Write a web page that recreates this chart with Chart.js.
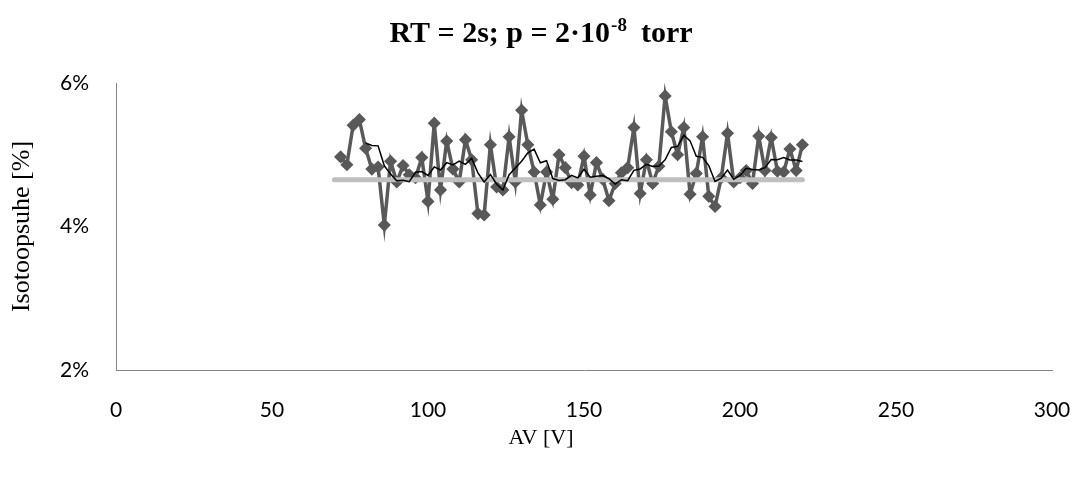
<!DOCTYPE html>
<html lang="et">
<head>
    <meta charset="UTF-8">
    <meta name="viewport" content="width=device-width, initial-scale=1.0">
    <script src="https://cdn.jsdelivr.net/npm/chart.js"></script>
    <title>Isotoopsuhe</title>
    <style>
      html, body { margin: 0; padding: 0; background: #ffffff; }
      .chart-box { width: 1082px; height: 477px; }
    </style>
</head>
<body>
    <div class="chart-box">
        <canvas id="isotoopChart" width="1082" height="477"></canvas>
    </div>

<script>
  // andmed loetud graafikult
  // kiirenduspinge AV [V]
  let pinged = [72, 74, 76, 78, 80, 82, 84, 86, 88, 90, 92, 94, 96, 98, 100,
    102, 104, 106, 108, 110, 112, 114, 116, 118, 120, 122, 124, 126, 128, 130,
    132, 134, 136, 138, 140, 142, 144, 146, 148, 150, 152, 154, 156, 158, 160,
    162, 164, 166, 168, 170, 172, 174, 176, 178, 180, 182, 184, 186, 188, 190,
    192, 194, 196, 198, 200, 202, 204, 206, 208, 210, 212, 214, 216, 218, 220];

  // isotoopsuhe [%]
  let suhted = [4.97, 4.86, 5.41, 5.49, 5.09, 4.80, 4.83, 4.02, 4.91, 4.62,
    4.85, 4.72, 4.68, 4.96, 4.35, 5.44, 4.51, 5.19, 4.80, 4.62,
    5.21, 4.93, 4.18, 4.16, 5.14, 4.55, 4.51, 5.25, 4.62, 5.62,
    5.14, 4.76, 4.30, 4.76, 4.38, 5.00, 4.82, 4.61, 4.58, 4.98,
    4.44, 4.89, 4.66, 4.36, 4.60, 4.75, 4.82, 5.38, 4.46, 4.93,
    4.60, 4.84, 5.82, 5.32, 5.00, 5.38, 4.45, 4.74, 5.25, 4.42,
    4.28, 4.68, 5.30, 4.62, 4.68, 4.78, 4.60, 5.26, 4.78, 5.24,
    4.77, 4.76, 5.08, 4.78, 5.14];

  // hall võrdlusjoon (loomulik isotoopsuhe)
  let vordlusX = [70, 220];
  let vordlusY = [4.65, 4.65];

  // libiseva keskmise periood (Exceli trendijoon)
  let periood = 5;

  // teljed
  let xTelg = [0, 300, 50];
  let yTelg = [2, 6, 2];

  // Exceli trendijoon: libisev keskmine üle "periood" punkti
  function libisevKeskmine(x, y, n) {
    let tulemus = [];
    for (let i = n - 1; i < y.length; i++) {
      let summa = 0;
      for (let j = i - n + 1; j <= i; j++) {
        summa += y[j];
      }
      tulemus.push({ x: x[i], y: summa / n });
    }
    return tulemus;
  }

  function punktid(x, y) {
    let tulemus = [];
    for (let i = 0; i < x.length; i++) {
      tulemus.push({ x: x[i], y: y[i] });
    }
    return tulemus;
  }

  const serif = '"Liberation Serif", "Times New Roman", serif';

  // pealkiri koos astendajaga + x-telje nimi (Excelis keskel üle kogu pildi)
  const pealkiri = {
    id: 'pealkiri',
    afterDraw(chart) {
      const ctx = chart.ctx;
      const suur = 'bold 30px ' + serif;
      const vaike = 'bold 19px ' + serif;
      const osa1 = 'RT = 2s; p = 2·10';
      const astendaja = '-8';
      const osa2 = '  torr';
      const baas = 42;

      ctx.save();
      ctx.fillStyle = '#000000';
      ctx.textBaseline = 'alphabetic';
      ctx.font = suur;
      let w1 = ctx.measureText(osa1).width;
      let w3 = ctx.measureText(osa2).width;
      ctx.font = vaike;
      let w2 = ctx.measureText(astendaja).width;
      let algus = chart.width / 2 - (w1 + w2 + w3) / 2;

      ctx.textAlign = 'left';
      ctx.font = suur;
      ctx.fillText(osa1, algus, baas);
      ctx.font = vaike;
      ctx.fillText(astendaja, algus + w1 + 1, baas - 11);
      ctx.font = suur;
      ctx.fillText(osa2, algus + w1 + w2, baas);

      // x-telje nimi
      ctx.font = '22px ' + serif;
      ctx.textAlign = 'center';
      ctx.textBaseline = 'middle';
      ctx.fillText('AV [V]', chart.width / 2, 438);
      ctx.restore();
    }
  };

  const andmed = {
    datasets: [
      {
        label: 'Libisev keskmine',
        data: libisevKeskmine(pinged, suhted, periood),
        borderColor: '#000000',
        borderWidth: 1.5,
        pointRadius: 0,
        fill: false,
        tension: 0
      },
      {
        label: 'Võrdlus',
        data: punktid(vordlusX, vordlusY),
        borderColor: '#bfbfbf',
        borderWidth: 5,
        borderCapStyle: 'round',
        pointRadius: 0,
        fill: false,
        tension: 0
      },
      {
        label: 'Isotoopsuhe',
        data: punktid(pinged, suhted),
        borderColor: '#595959',
        backgroundColor: '#595959',
        borderWidth: 3.5,
        pointStyle: 'rectRot',
        pointRadius: 5.5,
        pointBorderWidth: 1.5,
        pointBackgroundColor: '#595959',
        pointBorderColor: '#595959',
        fill: false,
        tension: 0
      }
    ]
  };

  const config = {
    type: 'line',
    data: andmed,
    plugins: [pealkiri],
    options: {
      responsive: false,
      animation: false,
      layout: {
        padding: { top: 83, right: 30, bottom: 0, left: 0 }
      },
      plugins: {
        legend: { display: false },
        tooltip: { enabled: false },
        title: { display: false }
      },
      scales: {
        x: {
          type: 'linear',
          min: xTelg[0],
          max: xTelg[1],
          grid: { display: false, drawTicks: false },
          border: { display: true, color: '#868686', width: 1 },
          ticks: {
            stepSize: xTelg[2],
            padding: 28,
            color: '#000000',
            font: { family: 'Lato', size: 21 }
          },
          title: { display: false },
          afterFit: function (scale) {
            scale.height = 107;
            // tick padding ei tohi külgedele ruumi juurde võtta
            scale.paddingLeft = 0;
            scale.paddingRight = 0;
          }
        },
        y: {
          min: yTelg[0],
          max: yTelg[1],
          grid: { display: false, drawTicks: false },
          border: { display: true, color: '#868686', width: 1 },
          ticks: {
            stepSize: yTelg[2],
            padding: 27,
            color: '#000000',
            font: { family: 'Lato', size: 21 },
            callback: function (v) { return v + '%'; }
          },
          title: {
            display: true,
            text: 'Isotoopsuhe [%]',
            color: '#000000',
            padding: { top: 7, bottom: 0 },
            font: { family: serif, size: 26 }
          },
          afterFit: function (scale) {
            scale.width = 116;
          }
        }
      }
    }
  };

  let isotoopChart = new Chart(document.getElementById('isotoopChart'), config);
</script>
</body>
</html>
